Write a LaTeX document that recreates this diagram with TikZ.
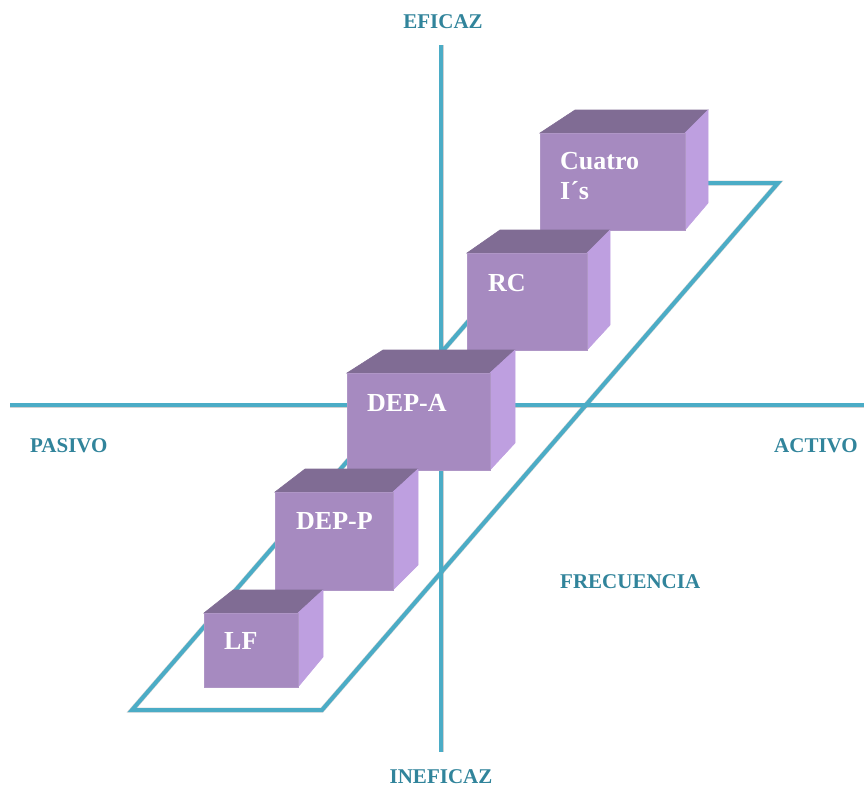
\documentclass[tikz,border=0pt]{standalone}
\usepackage{fontspec}
\setmainfont{Liberation Serif}
\definecolor{axisline}{HTML}{4BACC6}
\definecolor{axistext}{HTML}{31849B}
\definecolor{cubefront}{HTML}{A68AC0}
\definecolor{cubetop}{HTML}{806C94}
\definecolor{cuberight}{HTML}{BE9FE0}
\tikzset{
  axisstroke/.style={draw=axisline, line width=4pt},
  axisshadow/.style={draw=black, opacity=0.18, line width=5pt, shift={(1.5,2.5)}},
  axislabel/.style={text=axistext, font=\fontsize{21}{24}\selectfont\bfseries, inner sep=0pt},
  cubelabel/.style={text=white, font=\fontsize{26}{30}\selectfont\bfseries, inner sep=0pt, anchor=west, align=left},
  frontface/.style={fill=cubefront, draw=cubefront!90!white, line width=0.6pt},
  topface/.style={fill=cubetop, draw=cubetop, line width=0.6pt},
  rightface/.style={fill=cuberight, draw=cuberight, line width=0.6pt},
}
% \boxcube{front x1}{front y1}{front x2}{front y2}{back y}{back x left}{back x right}{right face back bottom y}
\newcommand{\boxcube}[8]{%
  \fill[topface] (#1,#2) -- (#6,#5) -- (#7,#5) -- (#3,#2) -- cycle;
  \fill[rightface] (#3,#2) -- (#7,#5) -- (#7,#8) -- (#3,#4) -- cycle;
  \filldraw[frontface] (#1,#2) rectangle (#3,#4);
}
\begin{document}
\begin{tikzpicture}[x=1pt, y=-1pt]
  \useasboundingbox (0,0) rectangle (864,787);

  % axis end points
  \coordinate (vtop) at (441,45);
  \coordinate (vbot) at (441,752);
  \coordinate (hleft) at (10,405);
  \coordinate (hright) at (864,405);
  % frequency plane corners
  \coordinate (p1) at (132,710);
  \coordinate (p2) at (322,710);
  \coordinate (p3) at (778,183);
  \coordinate (p4) at (588,183);

  % soft shadows under the lines
  \draw[axisshadow] (vtop) -- (vbot);
  \draw[axisshadow] (hleft) -- (hright);
  \draw[axisshadow, line join=miter] (p1) -- (p2) -- (p3) -- (p4) -- cycle;

  % axes
  \draw[axisstroke] (vtop) -- (vbot);
  \draw[axisstroke] (hleft) -- (hright);
  % frequency plane
  \draw[axisstroke, line join=miter] (p1) -- (p2) -- (p3) -- (p4) -- cycle;

  % axis labels
  \node[axislabel] (eficaz) at (443,22) {EFICAZ};
  \node[axislabel] (ineficaz) at (441,777) {INEFICAZ};
  \node[axislabel, anchor=west] (pasivo) at (30,446) {PASIVO};
  \node[axislabel, anchor=east] (activo) at (858,446) {ACTIVO};
  \node[axislabel, anchor=west] (frecuencia) at (560,582) {FRECUENCIA};

  % cubes, from the back one to the front one
  \boxcube{540}{133}{685}{230}{110}{575}{708}{203}
  \node[cubelabel, anchor=north west] (cuatro) at (560,152) {Cuatro\\I´s};

  \boxcube{467}{253}{587}{350}{230}{500}{610}{325}
  \node[cubelabel] (rc) at (488,283) {RC};

  \boxcube{347}{373}{490}{470}{350}{383}{515}{443}
  \node[cubelabel] (depa) at (367,403) {DEP-A};

  \boxcube{275}{492}{393}{590}{469}{305}{418}{565}
  \node[cubelabel] (depp) at (296,521) {DEP-P};

  \boxcube{204}{613}{298}{687}{590}{233}{323}{657}
  \node[cubelabel] (lf) at (224,641) {LF};
\end{tikzpicture}
\end{document}
